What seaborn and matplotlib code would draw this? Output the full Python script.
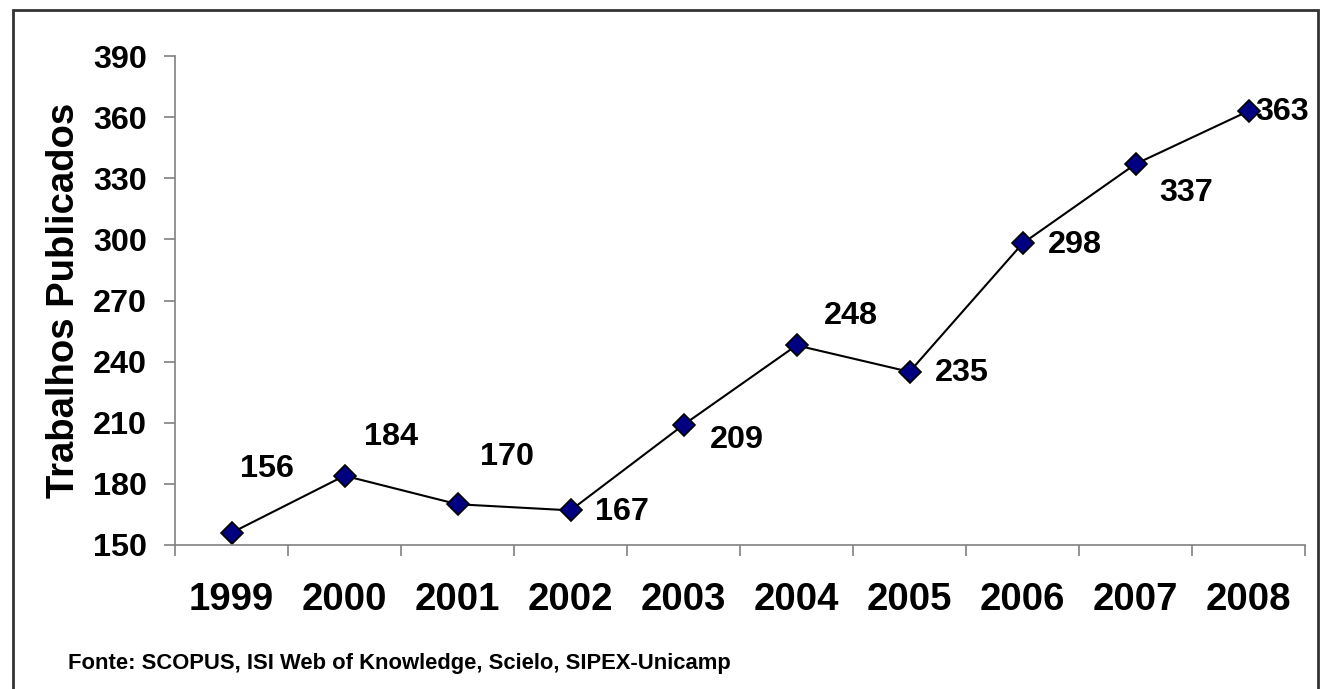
import pandas as pd
import matplotlib.pyplot as plt
import seaborn as sns
from matplotlib.patches import Rectangle

years = ['1999', '2000', '2001', '2002', '2003', '2004', '2005', '2006', '2007', '2008']
trabalhos = [156, 184, 170, 167, 209, 248, 235, 298, 337, 363]
y_ticks = [150, 180, 210, 240, 270, 300, 330, 360, 390]

# label offsets in pixels (dx, dy) relative to each point
offsets = [(35, 64), (46, 39), (49, 47), (51, -2), (53, -15), (54, 29), (52, -1), (52, -2), (51, -29), (34, -1)]

sns.set_style('white')
plt.rcParams['font.family'] = ['Liberation Sans', 'DejaVu Sans']
plt.rcParams['font.weight'] = 'bold'
plt.rcParams['text.color'] = 'black'
plt.rcParams['axes.labelcolor'] = 'black'
plt.rcParams['xtick.color'] = 'black'
plt.rcParams['ytick.color'] = 'black'

df = pd.DataFrame({'pos': range(len(years)), 'Ano': years, 'Trabalhos': trabalhos})

fig = plt.figure(figsize=(13.24, 6.89), dpi=100)
ax = fig.add_axes([0.1322, 0.209, 0.8535, 0.7097])

sns.lineplot(data=df, x='pos', y='Trabalhos', ax=ax, color='black', linewidth=1.5,
             marker='D', markersize=11, markerfacecolor='#000080', markeredgecolor='black',
             markeredgewidth=1.2)

for i, v in enumerate(trabalhos):
    ax.annotate(str(v), (i, v), xytext=offsets[i], textcoords='offset pixels',
                ha='center', va='center', fontsize=23.3, fontweight='bold', color='black')

ax.set_xlim(-0.5, len(years) - 0.5)
ax.set_ylim(150, 390)
ax.set_yticks(y_ticks)
ax.set_yticklabels([str(t) for t in y_ticks], fontsize=23.3, fontweight='bold')
ax.set_xticks(range(len(years)))
ax.set_xticklabels(years, fontsize=27.6, fontweight='bold')
ax.set_xticks([i - 0.5 for i in range(len(years) + 1)], minor=True)
ax.tick_params(axis='x', which='major', length=0, pad=27, bottom=True)
ax.tick_params(axis='x', which='minor', length=8, width=1.2, color='#808080',
               direction='out', bottom=True)
ax.tick_params(axis='y', length=8, width=1.2, color='#808080', labelcolor='black',
               direction='out', left=True, pad=12)
ax.set_xlabel('')
ax.set_ylabel('Trabalhos Publicados', fontsize=27.5, fontweight='bold', labelpad=8)

for s in ['top', 'right']:
    ax.spines[s].set_visible(False)
for s in ['left', 'bottom']:
    ax.spines[s].set_color('#808080')
    ax.spines[s].set_linewidth(1.2)

fig.text(68 / 1324, 1 - 663 / 689, 'Fonte: SCOPUS, ISI Web of Knowledge, Scielo, SIPEX-Unicamp',
         fontsize=15.8, fontweight='bold', va='center', ha='left', color='black')

frame = Rectangle((13 / 1324, -0.1), (1318 - 13) / 1324, 1.1 - 10 / 689, transform=fig.transFigure,
                  fill=False, edgecolor='#333333', linewidth=2, clip_on=False)
fig.patches.append(frame)

fig.savefig('out.png', dpi=100)
